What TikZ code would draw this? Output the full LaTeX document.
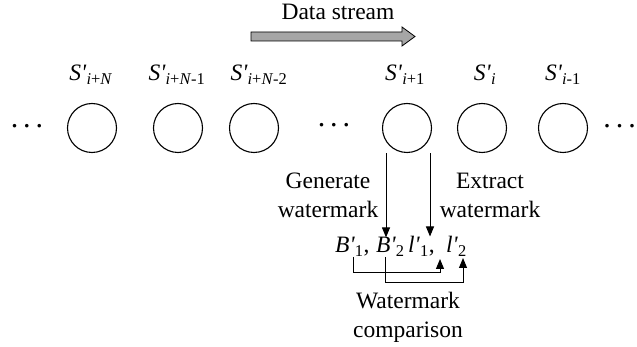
\documentclass[tikz,border=0pt]{standalone}
\usepackage{fontspec}
\setmainfont{Liberation Serif}
\usetikzlibrary{arrows.meta,calc}

\definecolor{streamgray}{RGB}{166,166,166}

% primed italic symbol with a subscript
\newcommand{\primed}[2]{\textit{#1\textquotesingle}\textsubscript{#2}}
\newcommand{\dotrow}{{\fontsize{30}{30}\selectfont .\kern5pt.\kern5pt.}}

\begin{document}
\begin{tikzpicture}[x=1pt,y=-1pt,
  font=\fontsize{23.5}{28.5}\selectfont,
  state/.style={draw, circle, minimum size=49pt, inner sep=0pt, line width=1.1pt},
  lbl/.style={anchor=base, inner sep=0pt},
  term/.style={anchor=base west, inner sep=0pt},
  txt/.style={align=center, inner sep=0pt, anchor=north},
  flow/.style={line width=1pt, -{Triangle[length=10pt,width=8pt]}}]
\useasboundingbox (0,0) rectangle (637,347);

% direction of the stream
\node[lbl] (ds) at (338,20) {Data stream};
\draw[line width=0.8pt, fill=streamgray]
  (251,32) -- (402,32) -- (402,27) -- (415,36.5) -- (402,46) -- (402,41) -- (251,41) -- cycle;

% stream elements
\node[state] (c1) at (92,128) {};
\node[state] (c2) at (178,128) {};
\node[state] (c3) at (254,128) {};
\node[state] (c4) at (407,128) {};
\node[state] (c5) at (482,128) {};
\node[state] (c6) at (563,128) {};

\node[lbl] (s1) at (91,81)  {\primed{S}{\textit{i}+\textit{N}}};
\node[lbl] (s2) at (177,81) {\primed{S}{\textit{i}+\textit{N}-1}};
\node[lbl] (s3) at (259,81) {\primed{S}{\textit{i}+\textit{N}-2}};
\node[lbl] (s4) at (405,81) {\primed{S}{\textit{i}+1}};
\node[lbl] (s5) at (485,81) {\primed{S}{\textit{i}}};
\node[lbl] (s6) at (563,81) {\primed{S}{\textit{i}-1}};

% ellipses between elements
\node[lbl] (d1) at (27,128)  {\dotrow};
\node[lbl] (d2) at (334,127) {\dotrow};
\node[lbl, anchor=base east] (d3) at (636,128) {\dotrow};

% watermark terms
\node[term] (b1) at (335,253) {\primed{B}{1},};
\node[term] (b2) at (376,253) {\primed{B}{2}};
\node[term] (l1) at (408,253) {\primed{l}{1},};
\node[term] (l2) at (446,253) {\primed{l}{2}};

% generation and extraction
\draw[flow] ($(c4.south)+(-21,0)$) coordinate (g0) -- (g0 |- b2.north);
\draw[flow] ($(c4.south)+(23,0)$) coordinate (e0) -- (e0 |- l1.north);

\node[txt] (gen) at (328,173) {Generate\\watermark};
\node[txt] (ext) at (490,173) {Extract\\watermark};

% comparison
\draw[flow] ($(b1.base west)+(18,4)$) -- ++(0,16) -| ($(l1.base west)+(32,6)$);
\draw[flow] ($(b2.base west)+(9,4)$) -- ++(0,26) -| ($(l2.base west)+(17,5)$);

\node[txt] (cmp) at (408,292) {Watermark\\comparison};
\end{tikzpicture}
\end{document}
